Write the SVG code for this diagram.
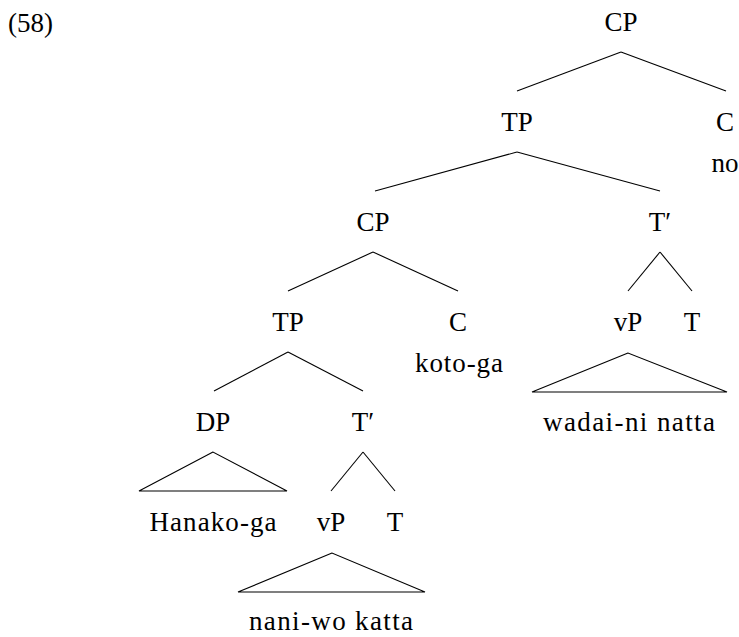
<svg xmlns="http://www.w3.org/2000/svg" width="739" height="637" viewBox="0 0 739 637">
<style>
.e line,.e polygon{stroke:#000;stroke-width:1.1;fill:none}
</style>
<rect width="739" height="637" fill="#fff"/>
<g font-family="Liberation Serif" font-size="27" fill="#000" text-anchor="middle">
<text x="8" y="32" text-anchor="start">(58)</text>
<g class="e" id="connectors">
<line x1="621" y1="52" x2="517" y2="91"/>
<line x1="621" y1="52" x2="726" y2="91"/>
<line x1="517" y1="152" x2="375" y2="191"/>
<line x1="517" y1="152" x2="660" y2="191"/>
<line x1="373" y1="252" x2="288" y2="291"/>
<line x1="373" y1="252" x2="458" y2="291"/>
<line x1="660" y1="252" x2="628" y2="291"/>
<line x1="660" y1="252" x2="692" y2="291"/>
<polygon points="628,353 532,392 727,392"/>
<line x1="288" y1="352" x2="214" y2="391"/>
<line x1="288" y1="352" x2="363" y2="391"/>
<polygon points="213,452 139,491 287,491"/>
<line x1="363" y1="452" x2="331" y2="491"/>
<line x1="363" y1="452" x2="395" y2="491"/>
<polygon points="332,553 238,592 425,592"/>
</g>
<g id="n-cp1"><text x="621" y="31">CP</text></g>
<g id="n-tp1"><text x="517" y="131">TP</text></g>
<g id="n-c1"><text x="725" y="131">C</text><text x="725" y="172">no</text></g>
<g id="n-cp2"><text x="373" y="231">CP</text></g>
<g id="n-tbar1"><text x="660" y="231">T′</text></g>
<g id="n-tp2"><text x="288" y="331">TP</text></g>
<g id="n-c2"><text x="458" y="331">C</text><text x="459" y="372" textLength="88" lengthAdjust="spacing">koto-ga</text></g>
<g id="n-vp1"><text x="628" y="331">vP</text></g>
<g id="n-t1"><text x="692" y="331">T</text></g>
<g id="n-leaf1"><text x="629" y="431" textLength="172" lengthAdjust="spacing">wadai-ni natta</text></g>
<g id="n-dp"><text x="213" y="431">DP</text></g>
<g id="n-tbar2"><text x="363" y="431">T′</text></g>
<g id="n-leaf2"><text x="213" y="531" textLength="127" lengthAdjust="spacing">Hanako-ga</text></g>
<g id="n-vp2"><text x="331" y="531">vP</text></g>
<g id="n-t2"><text x="395" y="531">T</text></g>
<g id="n-leaf3"><text x="331" y="630" textLength="164" lengthAdjust="spacing">nani-wo katta</text></g>
</g>
</svg>
